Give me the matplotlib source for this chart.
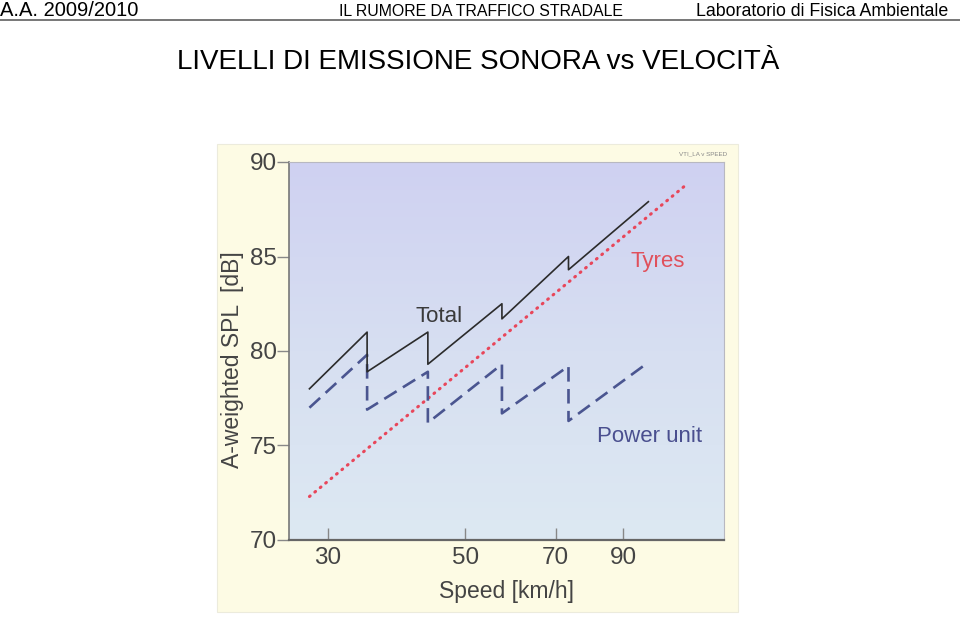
import matplotlib
matplotlib.use('Agg')
import matplotlib.pyplot as plt
from matplotlib.patches import Rectangle
from matplotlib.lines import Line2D
from matplotlib.ticker import NullLocator
import numpy as np

# speeds [km/h] at the gear change points
speed_pts = [28.0, 34.7, 34.7, 43.5, 43.5, 57.3, 57.3, 73.4, 73.4, 98.8]
total_db = [78.0, 81.0, 78.9, 81.0, 79.3, 82.5, 81.7, 85.0, 84.3, 87.9]
power_db = [77.0, 79.8, 76.9, 78.9, 76.2, 79.3, 76.7, 79.2, 76.3, 79.4]
tyre_speed = [28.0, 112.8]
tyre_db = [72.3, 88.7]

xticks = [30, 50, 70, 90]
yticks = [70, 75, 80, 85, 90]

plt.rcParams['font.family'] = ['Liberation Sans', 'DejaVu Sans']

W, H = 960.0, 628.0
fig = plt.figure(figsize=(9.6, 6.28), dpi=100)
fig.patch.set_facecolor('white')

# slide header
fig.text(0 / W, 1 - 16 / H, 'A.A. 2009/2010', fontsize=14.5, color='black', va='baseline', ha='left')
fig.text(481 / W, 1 - 16 / H, 'IL RUMORE DA TRAFFICO STRADALE', fontsize=11.4, color='black', va='baseline', ha='center')
fig.text(948 / W, 1 - 16 / H, 'Laboratorio di Fisica Ambientale', fontsize=12.8, color='black', va='baseline', ha='right')
fig.lines.append(Line2D([0, 1], [1 - 20 / H, 1 - 20 / H], transform=fig.transFigure, color='#777777', lw=1.4))

fig.text(478 / W, 1 - 69 / H, 'LIVELLI DI EMISSIONE SONORA vs VELOCITÀ', fontsize=20, color='black', va='baseline', ha='center')

# pale yellow card behind the scanned graph
fig.patches.append(Rectangle((217 / W, 1 - 612 / H), (738 - 217) / W, (612 - 144) / H,
                             transform=fig.transFigure, fc='#fdfbe4', ec='#ecebdc', lw=0.8, zorder=-1))

ax = fig.add_axes([289 / W, 1 - 540 / H, 435 / W, 378 / H])
ax.set_zorder(2)
ax.set_xscale('log')
ax.set_autoscale_on(False)
ax.set_xlim(25.95, 130.9)
ax.set_ylim(70, 90)

# vertical gradient lavender -> light blue
top = np.array([207, 209, 242]) / 255.0
mid = np.array([215, 223, 241]) / 255.0
bot = np.array([221, 233, 243]) / 255.0
t = np.linspace(0, 1, 200)[:, None]
grad = np.where(t < 0.5, top + (mid - top) * (t / 0.5), mid + (bot - mid) * ((t - 0.5) / 0.5))
ax.imshow(grad[:, None, :], extent=(0, 1, 0, 1), transform=ax.transAxes, aspect='auto', zorder=0)

ax.plot(tyre_speed, tyre_db, color='#e8465a', lw=2.2, linestyle=(0, (0.3, 2.0)),
        dash_capstyle='round', zorder=3)
ax.plot(speed_pts, power_db, color='#4a5590', lw=1.9, linestyle=(0, (5.5, 2.8)), zorder=4)
ax.plot(speed_pts, total_db, color='#2b2b2b', lw=1.2, zorder=5)

ax.text(45.3, 81.8, 'Total', fontsize=16, color='#3a3a3a', ha='center', va='center')
ax.text(102.4, 84.76, 'Tyres', fontsize=16, color='#e0505c', ha='center', va='center')
ax.text(99.4, 75.45, 'Power unit', fontsize=16, color='#4a4f8f', ha='center', va='center')
ax.text(0.952, 1.016, 'VTI_LA v SPEED', transform=ax.transAxes, fontsize=4.5, color='#888888',
        ha='center', va='bottom')

ax.set_xticks(xticks)
ax.set_xticklabels([str(v) for v in xticks])
ax.xaxis.set_minor_locator(NullLocator())
ax.set_yticks(yticks)
ax.tick_params(axis='x', direction='in', length=9, width=1, color='#888888',
               labelsize=17.5, labelcolor='#444444', pad=5)
ax.tick_params(axis='y', direction='out', length=8.5, width=1, color='#888888',
               labelsize=17.5, labelcolor='#444444', pad=0)

ax.set_xlabel('Speed [km/h]', fontsize=16.5, color='#444444', labelpad=8)
ax.set_ylabel('A-weighted SPL  [dB]', fontsize=16.5, color='#444444')
ax.yaxis.set_label_coords(-0.103, 0.476)

for s in ['top', 'right']:
    ax.spines[s].set_color('#b8b8c0')
    ax.spines[s].set_linewidth(0.8)
ax.spines['left'].set_color('#777777')
ax.spines['left'].set_linewidth(1.2)
ax.spines['bottom'].set_color('#666666')
ax.spines['bottom'].set_linewidth(1.6)

fig.savefig('out.png', dpi=100)
